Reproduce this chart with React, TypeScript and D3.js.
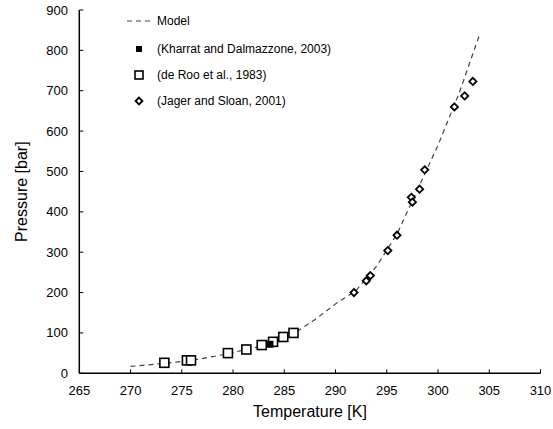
import React from "react";
import * as d3 from "d3";

const modelT = [270, 273, 276, 279, 282, 284, 286, 288, 290, 292, 294, 296, 298, 300, 302, 304];
const modelP = [17, 24, 32, 46, 63, 78, 100, 133, 172, 205, 265, 345, 455, 565, 690, 835];

const kharratT = [283.6];
const kharratP = [72];

const deRooT = [273.3, 275.5, 275.9, 279.5, 281.3, 282.8, 283.9, 284.9, 285.9];
const deRooP = [26, 32, 32, 50, 59, 70, 78, 90, 100];

const jagerT = [291.8, 293.0, 293.4, 295.1, 296.0, 297.4, 297.5, 298.2, 298.7, 301.6, 302.6, 303.4];
const jagerP = [200, 229, 242, 304, 342, 436, 424, 456, 504, 660, 687, 723];

const xTicks = [265, 270, 275, 280, 285, 290, 295, 300, 305, 310];
const yTicks = [0, 100, 200, 300, 400, 500, 600, 700, 800, 900];

const legendLabels = [
  "Model",
  "(Kharrat and Dalmazzone, 2003)",
  "(de Roo et al., 1983)",
  "(Jager and Sloan, 2001)",
];

const W = 553;
const H = 429;
const L = 79.3;
const R = 540.5;
const T = 10;
const B = 373.3;
const font = "Liberation Sans, Arial, sans-serif";

export default function App() {
  const x = d3.scaleLinear().domain([265, 310]).range([L, R]);
  const y = d3.scaleLinear().domain([0, 900]).range([B, T]);
  const line = d3
    .line<number>()
    .x((_, i) => x(modelT[i]))
    .y((d) => y(d));

  const diamond = (cx: number, cy: number, r: number) =>
    `M${cx},${cy - r}L${cx + r},${cy}L${cx},${cy + r}L${cx - r},${cy}Z`;

  const legY = [21, 49, 75, 101];
  const legMarkX = 139;
  const legTextX = 157;

  return (
    <svg
      width={W}
      height={H}
      style={{ position: "absolute", left: 0, top: 0, background: "#fff" }}
      fontFamily={font}
    >
      {/* axes */}
      <line x1={L} y1={T} x2={L} y2={B} stroke="#000" strokeWidth={1.5} />
      <line x1={L} y1={B} x2={R} y2={B} stroke="#000" strokeWidth={1.5} />
      {yTicks.map((t) => (
        <g key={"y" + t}>
          <line x1={L} x2={L + 4} y1={y(t)} y2={y(t)} stroke="#000" strokeWidth={1} />
          <text x={68} y={y(t)} dy="0.35em" textAnchor="end" fontSize={13} fill="#000">
            {t}
          </text>
        </g>
      ))}
      {xTicks.map((t) => (
        <g key={"x" + t}>
          <line x1={x(t)} x2={x(t)} y1={B} y2={B - 4} stroke="#000" strokeWidth={1} />
          <text x={x(t)} y={395} textAnchor="middle" fontSize={13} fill="#000">
            {t}
          </text>
        </g>
      ))}
      <text x={310} y={417} textAnchor="middle" fontSize={16} fill="#000">
        Temperature [K]
      </text>
      <text
        transform={`translate(27,${(T + B) / 2}) rotate(-90)`}
        textAnchor="middle"
        fontSize={16}
        fill="#000"
      >
        Pressure [bar]
      </text>

      {/* model */}
      <path
        d={line(modelP) || ""}
        fill="none"
        stroke="#444"
        strokeWidth={1.2}
        strokeDasharray="5,4"
      />

      {/* de Roo squares */}
      {deRooT.map((t, i) => (
        <rect
          key={"r" + i}
          x={x(t) - 4.5}
          y={y(deRooP[i]) - 4.5}
          width={9}
          height={9}
          fill="#fff"
          stroke="#000"
          strokeWidth={1.6}
        />
      ))}
      {/* Kharrat filled squares */}
      {kharratT.map((t, i) => (
        <rect
          key={"k" + i}
          x={x(t) - 3.5}
          y={y(kharratP[i]) - 3.5}
          width={7}
          height={7}
          fill="#000"
        />
      ))}
      {/* Jager diamonds */}
      {jagerT.map((t, i) => (
        <path
          key={"j" + i}
          d={diamond(x(t), y(jagerP[i]), 3.6)}
          fill="#fff"
          stroke="#000"
          strokeWidth={1.8}
        />
      ))}

      {/* legend */}
      <line
        x1={127}
        x2={152}
        y1={legY[0]}
        y2={legY[0]}
        stroke="#444"
        strokeWidth={1.2}
        strokeDasharray="5,4"
      />
      <rect x={legMarkX - 3} y={legY[1] - 3} width={6} height={6} fill="#000" />
      <rect
        x={legMarkX - 4}
        y={legY[2] - 4}
        width={8}
        height={8}
        fill="#fff"
        stroke="#000"
        strokeWidth={1.6}
      />
      <path d={diamond(legMarkX, legY[3], 3.4)} fill="#fff" stroke="#000" strokeWidth={1.8} />
      {legendLabels.map((s, i) => (
        <text key={s} x={legTextX} y={legY[i]} dy="0.35em" fontSize={12} fill="#000">
          {s}
        </text>
      ))}
    </svg>
  );
}
